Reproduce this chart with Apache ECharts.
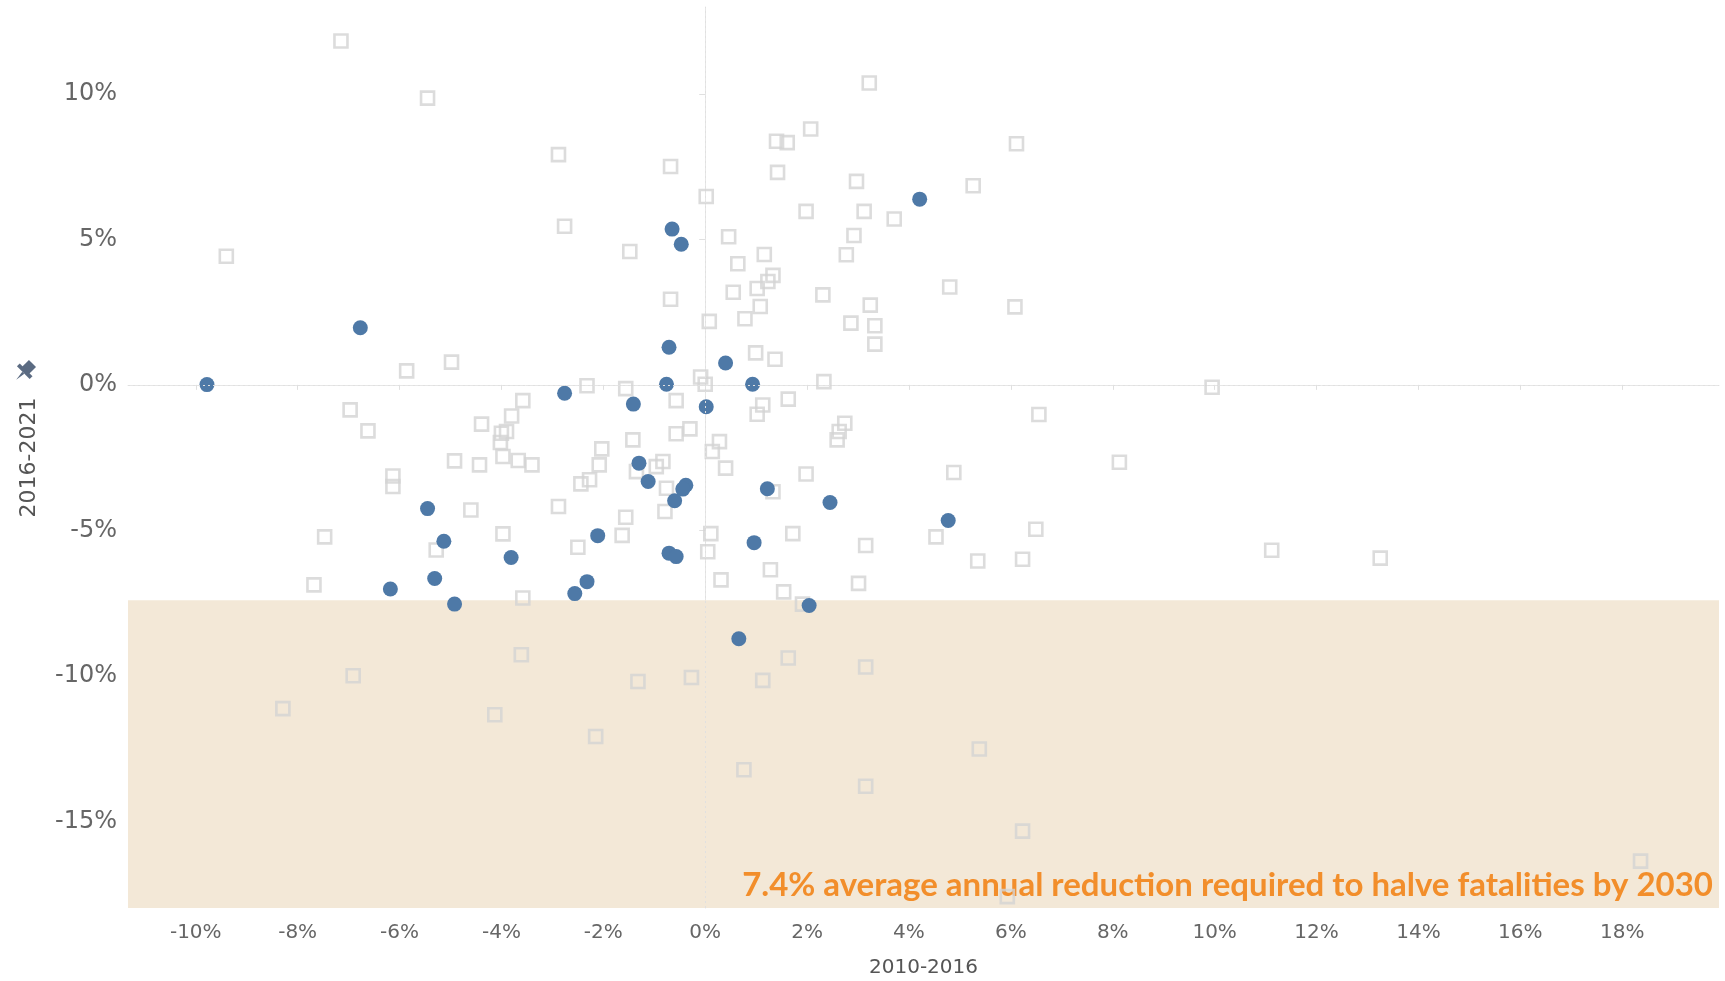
<!DOCTYPE html>
<html>
<head>
<meta charset="utf-8">
<script src="https://cdn.jsdelivr.net/npm/echarts@6/dist/echarts.min.js"></script>
<style>
  html, body { margin: 0; padding: 0; background: #fff; }
  #chart { width: 1725px; height: 981px; }
</style>
</head>
<body>
<div id="chart"></div>
<script>
// countries outside the group: [change 2010-2016 %, change 2016-2021 %]
var otherCountries = [
    [-7.15, 11.81], [-5.45, 9.85], [-2.88, 7.91], [-2.76, 5.45], [-9.40, 4.42],
    [-5.86, 0.48], [-4.98, 0.78], [-6.97, -0.86], [-6.62, -1.58], [-4.39, -1.35],
    [-3.58, -0.54], [-3.80, -1.07], [-3.90, -1.60], [-4.00, -1.66], [-4.02, -1.98],
    [-3.97, -2.46], [-3.67, -2.60], [-3.40, -2.75], [-4.92, -2.61], [-4.43, -2.75],
    [-6.13, -3.13], [-6.13, -3.49],
    [3.22, 10.37], [2.07, 8.79], [1.40, 8.37], [1.61, 8.32], [1.42, 7.30],
    [-0.68, 7.50], [0.02, 6.47], [2.97, 6.99], [5.26, 6.84], [1.98, 5.96],
    [3.12, 5.96], [3.71, 5.70], [2.92, 5.13], [0.46, 5.09], [-1.48, 4.58],
    [1.16, 4.48], [2.77, 4.47], [0.64, 4.16], [1.33, 3.76], [1.23, 3.55],
    [1.02, 3.31], [0.55, 3.18], [2.31, 3.09], [4.80, 3.36], [-0.68, 2.94],
    [1.08, 2.69], [3.24, 2.74], [2.86, 2.12], [3.33, 2.03], [3.33, 1.40],
    [0.78, 2.27], [0.08, 2.18], [0.99, 1.10], [1.37, 0.88], [2.33, 0.11],
    [-0.09, 0.27], [0.00, 0.02], [-2.32, -0.03], [-1.56, -0.13], [-0.57, -0.54],
    [1.63, -0.49], [1.13, -0.69], [1.02, -1.01], [2.74, -1.32], [2.63, -1.60],
    [2.59, -1.89], [-0.30, -1.51], [-0.57, -1.68], [-1.42, -1.89], [0.28, -1.95],
    [0.14, -2.29], [-2.03, -2.20], [-2.08, -2.75], [0.40, -2.86], [1.98, -3.06],
    [4.88, -3.01], [-0.83, -2.63], [-0.96, -2.81], [-1.35, -2.98], [-0.76, -3.55],
    [-2.44, -3.40], [-2.27, -3.26], [1.33, -3.67],
    [-2.88, -4.18], [-1.56, -4.55], [-0.79, -4.35], [-1.63, -5.17], [0.11, -5.11],
    [1.72, -5.11], [-2.50, -5.58], [0.05, -5.73], [3.15, -5.52], [4.53, -5.22],
    [0.31, -6.70], [1.28, -6.35], [1.54, -7.11], [3.01, -6.82], [1.91, -7.53],
    [1.63, -9.38], [3.15, -9.69], [-1.32, -10.19], [-0.27, -10.05], [1.13, -10.15],
    [-2.15, -12.08], [0.76, -13.22], [3.15, -13.79],
    [6.49, -4.96], [5.35, -6.05], [6.23, -5.99], [11.12, -5.68], [13.25, -5.95],
    [5.38, -12.51], [6.23, -15.33], [5.93, -17.58], [18.36, -16.36], [6.11, 8.28],
    [6.08, 2.68], [9.95, -0.08], [6.55, -1.02], [8.13, -2.66],
    [-4.60, -4.30], [-7.47, -5.22], [-3.97, -5.12], [-5.28, -5.67], [-7.68, -6.87],
    [-3.58, -7.32], [-3.61, -9.27], [-6.91, -9.99], [-8.29, -11.12], [-4.13, -11.33]
];

// highlighted countries
var groupCountries = [
    [-9.78, 0.01], [-6.77, 1.96], [-2.76, -0.29], [4.21, 6.38], [-0.65, 5.35],
    [-0.47, 4.83], [-0.71, 1.29], [0.40, 0.75], [-0.76, 0.02], [0.93, 0.02],
    [-1.41, -0.66], [0.02, -0.75], [-1.30, -2.69], [-1.12, -3.32], [-0.38, -3.45],
    [-0.44, -3.58], [1.22, -3.57], [-0.60, -3.98], [2.45, -4.04], [4.77, -4.66],
    [-2.11, -5.18], [0.96, -5.42], [-0.71, -5.78], [-0.57, -5.90], [-2.32, -6.76],
    [-2.56, -7.17], [2.04, -7.58], [0.66, -8.72], [-5.45, -4.25], [-5.13, -5.37],
    [-3.81, -5.93], [-5.31, -6.65], [-6.18, -7.01], [-4.92, -7.53]
];

var xTicks = [-10, -8, -6, -4, -2, 0, 2, 4, 6, 8, 10, 12, 14, 16, 18];
var yTicks = [-15, -10, -5, 0, 5, 10];
var targetReduction = -7.4;
var targetText = '7.4% average annual reduction required to halve fatalities by 2030';

var xMin = -11.33, xMax = 19.9;
var yMin = -17.97, yMax = 12.98;

var axisFont = '"DejaVu Sans", sans-serif';
var noteFont = 'Lato, "Noto Sans", sans-serif';
var chart = echarts.init(document.getElementById('chart'));

chart.setOption({
    animation: false,
    backgroundColor: '#ffffff',
    grid: { left: 128, right: 6, top: 7, bottom: 73, outerBoundsMode: 'none' },
    xAxis: {
        type: 'value',
        min: xMin,
        max: xMax,
        name: '2010-2016',
        nameLocation: 'middle',
        nameGap: 50,
        nameTextStyle: { fontFamily: axisFont, fontSize: 20, color: '#555' },
        axisLine: { show: true, lineStyle: { color: '#e6e6e6' } },
        axisTick: { show: true, length: 5, customValues: xTicks, lineStyle: { color: '#e0e0e0' } },
        axisLabel: {
            customValues: xTicks,
            formatter: function (v) { return v + '%'; },
            fontFamily: axisFont, fontSize: 20, color: '#666', margin: 15
        },
        splitLine: { show: false }
    },
    yAxis: {
        type: 'value',
        min: yMin,
        max: yMax,
        name: '2016-2021',
        nameLocation: 'middle',
        nameGap: 88,
        nameTextStyle: { fontFamily: axisFont, fontSize: 22, color: '#555' },
        axisLine: { show: true, lineStyle: { color: '#e6e6e6' } },
        axisTick: { show: true, length: 6, customValues: yTicks, lineStyle: { color: '#e0e0e0' } },
        axisLabel: {
            customValues: yTicks,
            formatter: function (v) { return v + '%'; },
            fontFamily: axisFont, fontSize: 24, color: '#666', margin: 11
        },
        splitLine: { show: false }
    },
    graphic: [{
        // pin icon above the y axis title
        type: 'group',
        x: 24,
        y: 372,
        rotation: -Math.PI / 4,
        children: [
            { type: 'rect', shape: { x: -5, y: -12, width: 10, height: 10 }, style: { fill: '#5b6b82' } },
            { type: 'rect', shape: { x: -9, y: -3, width: 18, height: 4 }, style: { fill: '#5b6b82' } },
            { type: 'polygon', shape: { points: [[-1.5, 1], [1.5, 1], [0, 11]] }, style: { fill: '#5b6b82' } }
        ]
    }],
    series: [{
        name: 'Other',
        type: 'scatter',
        symbol: 'rect',
        symbolSize: 13,
        itemStyle: { color: 'rgba(0,0,0,0)', borderColor: '#d3d3d3', borderWidth: 2.6 },
        data: otherCountries,
        markArea: {
            silent: true,
            itemStyle: { color: '#f3e8d7' },
            label: {
                show: true,
                position: 'insideBottomRight',
                distance: 6,
                formatter: function () { return targetText; },
                color: '#f28e2b',
                fontFamily: noteFont,
                fontWeight: 'bold',
                fontSize: 33
            },
            data: [[{ yAxis: targetReduction, xAxis: xMin }, { yAxis: yMin, xAxis: xMax }]]
        },
        markLine: {
            silent: true,
            symbol: 'none',
            label: { show: false },
            lineStyle: { color: '#e0e0e0', type: [2, 3], width: 1 },
            data: [{ xAxis: 0 }, { yAxis: 0 }]
        }
    }, {
        name: 'Group',
        type: 'scatter',
        symbol: 'circle',
        symbolSize: 15,
        itemStyle: { color: '#4e79a7', opacity: 1 },
        data: groupCountries
    }]
});
</script>
</body>
</html>
